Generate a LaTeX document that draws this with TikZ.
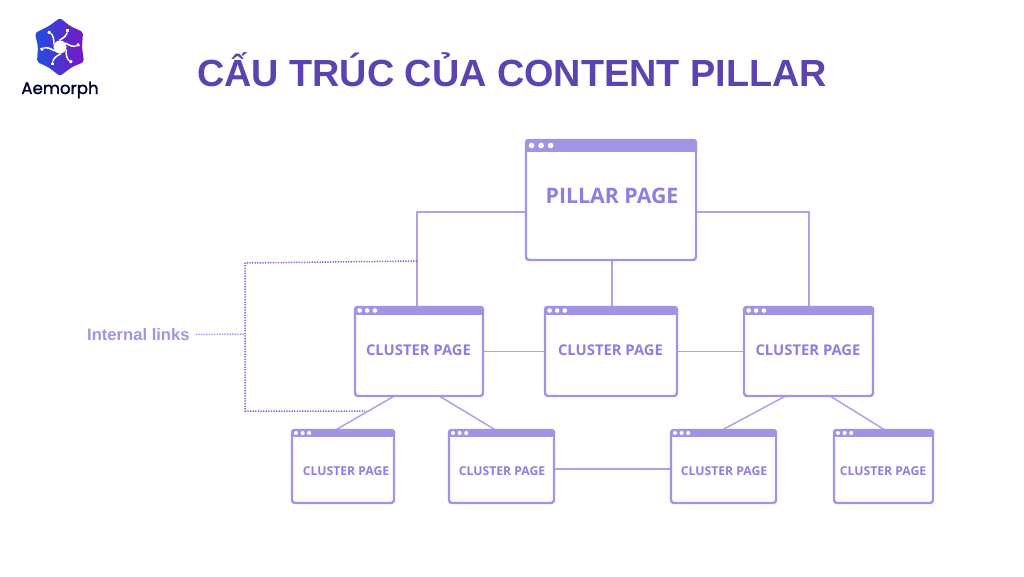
\documentclass[tikz,border=0pt]{standalone}
\usepackage{fontspec}
\setmainfont{Open Sans}
\newfontfamily\titlefont{Liberation Sans}
\newfontfamily\brandfont[FakeBold=1.5]{Poppins}
\usetikzlibrary{calc,shadings}
\definecolor{winc}{HTML}{A294E4}
\definecolor{linec}{HTML}{AEA1EA}
\definecolor{labc}{HTML}{8F7EDF}
\definecolor{dotc}{HTML}{7A63D8}
\definecolor{titlec}{HTML}{5B44B0}
\definecolor{logoblue}{HTML}{1F4FE0}
\definecolor{logoviolet}{HTML}{7A16C4}
\tikzset{
  winbox/.style={draw=winc,line width=2.4pt,rounded corners=3pt,fill=white,inner sep=0pt},
  winbar/.style={fill=winc,draw=none,rounded corners=3pt},
  windot/.style={fill=white,draw=none,circle},
  conn/.style={draw=linec,line width=1.5pt},
  dotted link/.style={draw=dotc,line width=1.5pt,dash pattern=on 1.3pt off 1.3pt},
  lab/.style={font=\bfseries,text=labc,inner sep=0pt,anchor=center},
}
\newcommand{\winnode}[9]{%
  \node[winbox,minimum width=#4pt-#2pt,minimum height=#5pt-#3pt] (#1) at ({(#2+#4)/2},{(#3+#5)/2}) {};
  \fill[winbar] (#2-1,#3-1) rectangle (#4+1,#3+#6);
  \fill[white] (#2+1.2,#3+#6) rectangle (#4-1.2,#3+#6+1.5);
  \foreach \k in {0,1,2}{\fill[windot] ({#2+#7*2+\k*#8},{#3+#6/2-0.5}) circle (#7pt);}
  #9
}
\begin{document}
\begin{tikzpicture}[x=1pt,y=-1pt]
\useasboundingbox (0,0) rectangle (1024,576);
\coordinate (jl) at (417,212);
\coordinate (jr) at (809,212);
\coordinate (dA) at (417,261);
\coordinate (dB) at (245,263);
\coordinate (dC) at (245,411);
\coordinate (dD) at (365,411);
\coordinate (dE) at (245,334);
\node[inner sep=0pt,minimum width=170pt,minimum height=120pt] (pil) at (611,200) {};
\node[inner sep=0pt,minimum width=128pt,minimum height=89pt] (c1) at (419,351.5) {};
\node[inner sep=0pt,minimum width=132pt,minimum height=89pt] (c2) at (611,351.5) {};
\node[inner sep=0pt,minimum width=129pt,minimum height=89pt] (c3) at (808.5,351.5) {};
\node[inner sep=0pt,minimum width=102pt,minimum height=73pt] (s1) at (343,466.5) {};
\node[inner sep=0pt,minimum width=105pt,minimum height=73pt] (s2) at (501.5,466.5) {};
\node[inner sep=0pt,minimum width=105pt,minimum height=73pt] (s3) at (723.5,466.5) {};
\node[inner sep=0pt,minimum width=99pt,minimum height=73pt] (s4) at (883.5,466.5) {};
\draw[conn] (pil.west |- jl) -- (jl) -- (jl |- c1.north);
\draw[conn] (pil.east |- jr) -- (jr) -- (jr |- c3.north);
\draw[conn] (pil.south -| c2.north) ++(1,0) -- ($(c2.north)+(1,0)$);
\draw[conn] (c1.east) -- (c2.west);
\draw[conn] (c2.east) -- (c3.west);
\draw[conn] (s2.east |- 0,469) -- (s3.west |- 0,469);
\draw[conn] ($(c1.south west)!0.305!(c1.south east)$) -- ($(s1.north west)!0.43!(s1.north east)$);
\draw[conn] ($(c1.south west)!0.66!(c1.south east)$) -- ($(s2.north west)!0.44!(s2.north east)$);
\draw[conn] ($(c3.south west)!0.32!(c3.south east)$) -- ($(s3.north west)!0.49!(s3.north east)$);
\draw[conn] ($(c3.south west)!0.67!(c3.south east)$) -- ($(s4.north west)!0.51!(s4.north east)$);
\draw[dotted link] (dA) -- (dB) -- (dC) -- (dD);
\winnode{wpil}{526}{140}{696}{260}{12}{2.8}{9.5}{\node[lab,font=\bfseries\fontsize{21.3}{24}\selectfont] (tpil) at (612,196) {PILLAR PAGE};}
\winnode{wc1}{355}{307}{483}{396}{8}{2.3}{7.6}{\node[lab,font=\bfseries\fontsize{14.8}{17}\selectfont] (tc1) at (418.5,350) {CLUSTER PAGE};}
\winnode{wc2}{545}{307}{677}{396}{8}{2.3}{7.6}{\node[lab,font=\bfseries\fontsize{14.8}{17}\selectfont] (tc2) at (610.5,350) {CLUSTER PAGE};}
\winnode{wc3}{744}{307}{873}{396}{8}{2.3}{7.6}{\node[lab,font=\bfseries\fontsize{14.8}{17}\selectfont] (tc3) at (808,350) {CLUSTER PAGE};}
\winnode{ws1}{292}{430}{394}{503}{7}{2}{6.6}{\node[lab,font=\bfseries\fontsize{12.2}{14}\selectfont] (ts1) at (346,471) {CLUSTER PAGE};}
\winnode{ws2}{449}{430}{554}{503}{7}{2}{6.6}{\node[lab,font=\bfseries\fontsize{12.2}{14}\selectfont] (ts2) at (502,471) {CLUSTER PAGE};}
\winnode{ws3}{671}{430}{776}{503}{7}{2}{6.6}{\node[lab,font=\bfseries\fontsize{12.2}{14}\selectfont] (ts3) at (724,471) {CLUSTER PAGE};}
\winnode{ws4}{834}{430}{933}{503}{7}{2}{6.6}{\node[lab,font=\bfseries\fontsize{12.2}{14}\selectfont] (ts4) at (883,471) {CLUSTER PAGE};}
\node[inner sep=0pt,anchor=west,text=winc,font=\titlefont\bfseries\fontsize{16.6}{19}\selectfont] (il) at (87,334.5) {Internal links};
\draw[dotted link,draw=winc] (il.east) ++(6,0) -- (dE);
\node[inner sep=0pt,anchor=center,text=titlec,font=\titlefont\bfseries\fontsize{37.8}{44}\selectfont] (title) at (512,69.5) {CẤU TRÚC CỦA CONTENT PILLAR};
\begin{scope}[shift={(60,47)}]
  \shade[left color=logoblue,right color=logoviolet,rounded corners=2pt]
    (0,-29) -- (10,-21) -- (23,-15) -- (22,0) -- (24,15) -- (12,20) -- (0,29) -- (-12,20) -- (-23,15) -- (-22,0) -- (-25,-14) -- (-11,-21) -- cycle;
  \foreach \a in {0,60,...,300}{
    \begin{scope}[rotate=\a]
      \fill[white] (-1,-6) .. controls (4,-8) and (8,-11) .. (8,-16) -- (7.2,-16) .. controls (6,-12) and (3,-9.5) .. (-1,-7.5) -- cycle;
      \fill[white] (5.8,-15.5) rectangle (8.6,-18);
    \end{scope}
  }
  \fill[white] (0,0) circle (6.5pt);
\end{scope}
\node[inner sep=0pt,text=black!80!blue,font=\brandfont\fontsize{16.6}{18}\selectfont] (brand) at (60,90) {Aemorph};
\end{tikzpicture}
\end{document}
